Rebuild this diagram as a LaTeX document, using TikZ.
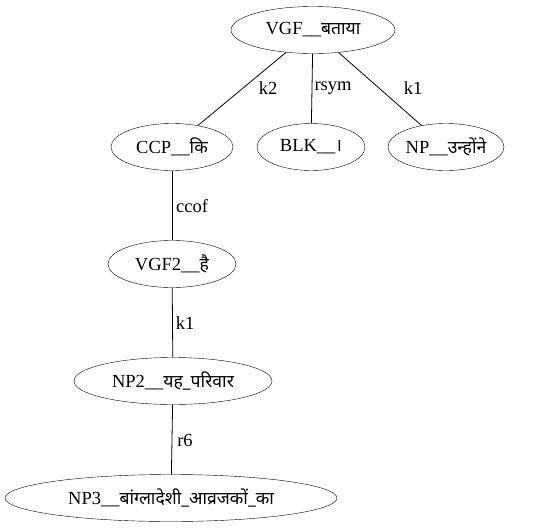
\documentclass[tikz,border=0pt]{standalone}
\usepackage{fontspec}
\setmainfont{Liberation Serif}
\newfontfamily\deva[Script=Devanagari,Scale=0.95]{Noto Sans}
\usetikzlibrary{shapes.geometric}
\begin{document}
\begin{tikzpicture}[x=1pt,y=-1pt,
  nd/.style={draw,ellipse,inner sep=0pt,minimum height=47pt,font=\fontsize{18.5}{21}\selectfont},
  lbl/.style={inner sep=0pt,font=\fontsize{18.5}{21}\selectfont},
  conn/.style={draw,line width=0.8pt}]
\useasboundingbox (0,0) rectangle (539,528);
\node[nd,minimum width=164pt] (vgf) at (313,30) {VGF\_\_{\deva बताया}};
\node[nd,minimum width=122pt] (ccp) at (172,147) {CCP\_\_{\deva कि}};
\node[nd,minimum width=108pt] (blk) at (311,147) {BLK\_\_{\deva ।}};
\node[nd,minimum width=116pt] (np) at (446,147) {NP\_\_{\deva उन्होंने}};
\node[nd,minimum width=128pt] (vgf2) at (172,264) {VGF2\_\_{\deva है}};
\node[nd,minimum width=198pt] (np2) at (173,381) {NP2\_\_{\deva यह\_परिवार}};
\node[nd,minimum width=332pt] (np3) at (171,498) {NP3\_\_{\deva बांग्लादेशी\_आव्रजकों\_का}};
\draw[conn] (vgf) -- (ccp);
\draw[conn] (vgf) -- (blk);
\draw[conn] (vgf) -- (np);
\draw[conn] (ccp) -- (vgf2);
\draw[conn] (vgf2) -- (np2);
\draw[conn] (np2) -- (np3);
\node[lbl] (l1) at (268,88) {k2};
\node[lbl] (l2) at (333,88) {rsym};
\node[lbl] (l3) at (413,88) {k1};
\node[lbl] (l4) at (192,206) {ccof};
\node[lbl] (l5) at (185,323) {k1};
\node[lbl] (l6) at (185,440) {r6};
\end{tikzpicture}
\end{document}
